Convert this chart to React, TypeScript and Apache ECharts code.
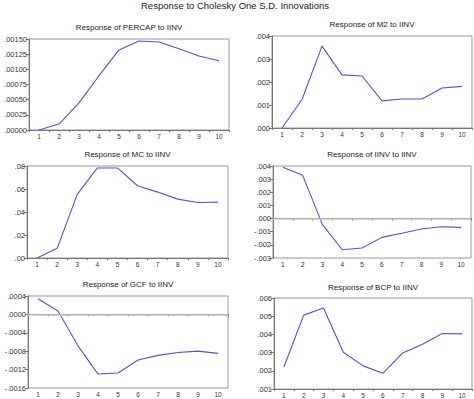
import React, { useEffect, useRef } from "react";
import * as echarts from "echarts";

const periods = ["1", "2", "3", "4", "5", "6", "7", "8", "9", "10"];

const percap = [0.0, 0.000098, 0.000447, 0.000895, 0.00132, 0.001467, 0.00145, 0.00134, 0.00122, 0.00114];
const m2 = [0.0, 0.00124, 0.00356, 0.00231, 0.00226, 0.00118, 0.00126, 0.00126, 0.00174, 0.00181];
const mc = [0.0, 0.0084, 0.0553, 0.0783, 0.0783, 0.0628, 0.0573, 0.0512, 0.0483, 0.0486];
const iinv = [0.0039, 0.00329, -0.00046, -0.00237, -0.00224, -0.00143, -0.00112, -0.00079, -0.00062, -0.00067];
const gcf = [0.000342, 0.000075, -0.000683, -0.001297, -0.001275, -0.000993, -0.00089, -0.000827, -0.000798, -0.000848];
const bcp = [0.00221, 0.00506, 0.00545, 0.00302, 0.00227, 0.00186, 0.00298, 0.00346, 0.00405, 0.00403];

const panelTitles = [
  "Response of PERCAP to IINV",
  "Response of M2 to IINV",
  "Response of MC to IINV",
  "Response of IINV to IINV",
  "Response of GCF to IINV",
  "Response of BCP to IINV",
];
const mainTitle = "Response to Cholesky One S.D. Innovations";

const panelData = [percap, m2, mc, iinv, gcf, bcp];
const yMin = [0, 0, 0, -0.003, -0.0016, 0.001];
const yMax = [0.0015, 0.004, 0.08, 0.004, 0.0004, 0.006];
const yStep = [0.00025, 0.001, 0.02, 0.001, 0.0004, 0.001];
const yDecimals = [5, 3, 2, 3, 4, 3];
const zeroLine = [false, false, false, true, true, false];

// layout
const grids = [
  { left: 29, top: 39, width: 200, height: 91 },
  { left: 272, top: 36, width: 200, height: 92 },
  { left: 27, top: 166, width: 201, height: 92 },
  { left: 273, top: 166, width: 198, height: 92 },
  { left: 28, top: 296, width: 200, height: 92 },
  { left: 274, top: 298, width: 198, height: 91 },
];
const titleY = [27, 24, 154, 154, 284, 287];

const FONT = "'Liberation Sans', Arial, sans-serif";
const LINE_COLOR = "#5252dc";
const AXIS_COLOR = "#777";

function fmt(v: number, d: number) {
  const s = v.toFixed(d);
  return s.replace(/^(-?)0\./, "$1.");
}

export default function App() {
  const ref = useRef<HTMLDivElement>(null);
  useEffect(() => {
    if (!ref.current) return;
    const chart = echarts.init(ref.current, undefined, { renderer: "svg" });
    const option: any = {
      animation: false,
      backgroundColor: "#fff",
      grid: grids.map((g) => ({
        ...g,
        show: true,
        borderColor: "#999",
        borderWidth: 1,
        containLabel: false,
      })),
      xAxis: grids.map((_, i) => ({
        type: "category",
        gridIndex: i,
        data: periods,
        boundaryGap: true,
        axisLine: { show: true, lineStyle: { color: AXIS_COLOR, width: 1 } },
        axisTick: { show: true, length: 2, lineStyle: { color: AXIS_COLOR } },
        axisLabel: { fontSize: 6.5, color: "#333", margin: 3, fontFamily: FONT, interval: 0 },
        splitLine: { show: false },
      })),
      yAxis: grids.map((_, i) => ({
        type: "value",
        gridIndex: i,
        min: yMin[i],
        max: yMax[i],
        interval: yStep[i],
        axisLine: { show: true, lineStyle: { color: AXIS_COLOR, width: 1 } },
        axisTick: { show: true, length: 3, lineStyle: { color: AXIS_COLOR } },
        axisLabel: {
          fontSize: 7.5,
          color: "#333",
          margin: 2,
          fontFamily: FONT,
          formatter: (v: number) => fmt(v, yDecimals[i]),
        },
        splitLine: { show: false },
      })),
      series: panelData.map((d, i) => ({
        type: "line",
        xAxisIndex: i,
        yAxisIndex: i,
        data: d,
        symbol: "none",
        lineStyle: { color: LINE_COLOR, width: 1.1 },
        markLine: zeroLine[i]
          ? {
              silent: true,
              symbol: "none",
              label: { show: false },
              lineStyle: { color: "#c4c4c4", width: 1.5, type: "solid" },
              data: [{ yAxis: 0 }],
            }
          : undefined,
      })),
      graphic: [
        {
          type: "text",
          x: 235,
          y: 5,
          style: {
            text: mainTitle,
            fontSize: 9.5,
            fontFamily: FONT,
            fill: "#222",
            textAlign: "center",
            textVerticalAlign: "middle",
          },
        },
        ...grids.map((g, i) => ({
          type: "text",
          x: g.left + g.width / 2,
          y: titleY[i],
          style: {
            text: panelTitles[i],
            fontSize: 8,
            fontFamily: FONT,
            fill: "#222",
            textAlign: "center",
            textVerticalAlign: "middle",
          },
        })),
      ],
    };
    chart.setOption(option);
    return () => chart.dispose();
  }, []);
  return (
    <div
      ref={ref}
      style={{ position: "fixed", left: 0, top: 0, width: 474, height: 399, background: "#fff" }}
    />
  );
}
